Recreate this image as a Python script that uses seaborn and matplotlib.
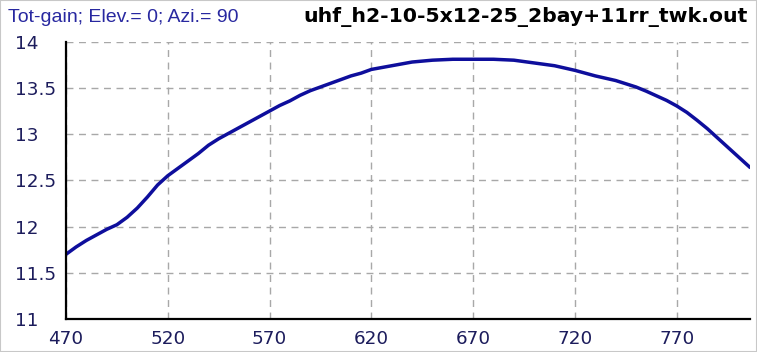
import matplotlib
matplotlib.use("Agg")
import matplotlib.pyplot as plt
import seaborn as sns
import pandas as pd
from matplotlib.patches import Rectangle

freq = [470, 475, 480, 485, 490, 495, 500, 505, 510, 515, 520, 525, 530, 535, 540,
        545, 550, 555, 560, 565, 570, 575, 580, 585, 590, 595, 600, 605, 610, 615,
        620, 630, 640, 650, 660, 670, 680, 690, 700, 710, 720, 730, 740, 750, 755,
        760, 765, 770, 775, 780, 785, 790, 795, 800, 806]
gain = [11.70, 11.78, 11.85, 11.91, 11.97, 12.02, 12.10, 12.20, 12.32, 12.45, 12.55,
        12.63, 12.71, 12.79, 12.88, 12.95, 13.01, 13.07, 13.13, 13.19, 13.25, 13.31,
        13.36, 13.42, 13.47, 13.51, 13.55, 13.59, 13.63, 13.66, 13.70, 13.74, 13.78,
        13.80, 13.81, 13.81, 13.81, 13.80, 13.77, 13.74, 13.69, 13.63, 13.58, 13.51,
        13.465, 13.415, 13.365, 13.305, 13.235, 13.15, 13.06, 12.96, 12.86, 12.76, 12.64]
xticks = [470, 520, 570, 620, 670, 720, 770]
yticks = [11, 11.5, 12, 12.5, 13, 13.5, 14]
ytick_labels = ["11", "11.5", "12", "12.5", "13", "13.5", "14"]
title_left = "Tot-gain; Elev.= 0; Azi.= 90"
title_right = "uhf_h2-10-5x12-25_2bay+11rr_twk.out"

sns.set_theme(style="white")
plt.rcParams['font.family'] = ['DejaVu Sans']

df = pd.DataFrame({"freq": freq, "gain": gain})

fig = plt.figure(figsize=(7.57, 3.52), dpi=100)
ax = fig.add_axes([66/757, 1-319/352, (750-66)/757, (319-41.7)/352])

sns.lineplot(data=df, x="freq", y="gain", ax=ax, color="#0e0e9c", linewidth=2.5)

ax.set_xlim(470, 806)
ax.set_ylim(11, 14)
ax.set_xticks(xticks)
ax.set_yticks(yticks)
ax.set_yticklabels(ytick_labels)
ax.set_xlabel("")
ax.set_ylabel("")

ax.grid(True, color="#a8a8a8", linestyle=(0, (5, 4)), linewidth=1.0)
for s in ["top", "right"]:
    ax.spines[s].set_visible(False)
for s in ["left", "bottom"]:
    ax.spines[s].set_visible(True)
    ax.spines[s].set_color("black")
    ax.spines[s].set_linewidth(1.6)

lab_color = "#1c1c5c"
ax.tick_params(axis="x", length=0, pad=8, labelsize=13.2, labelcolor=lab_color)
ax.tick_params(axis="y", length=0, pad=37.0, labelsize=13.2, labelcolor=lab_color)
for lab in ax.get_yticklabels():
    lab.set_horizontalalignment("left")

fig.text(8/757, 1-22/352, title_left, color="#2828a0", fontsize=14,
         family=["Liberation Sans", "DejaVu Sans"], ha="left", va="baseline")
fig.text(748/757, 1-22/352, title_right, color="black", fontsize=14.7, fontweight="bold",
         ha="right", va="baseline")

fig.patches.append(Rectangle((0, 0), 1, 1, transform=fig.transFigure, fill=False,
                             edgecolor="#c8c8c8", linewidth=1.5))

fig.savefig("out.png", dpi=100)
